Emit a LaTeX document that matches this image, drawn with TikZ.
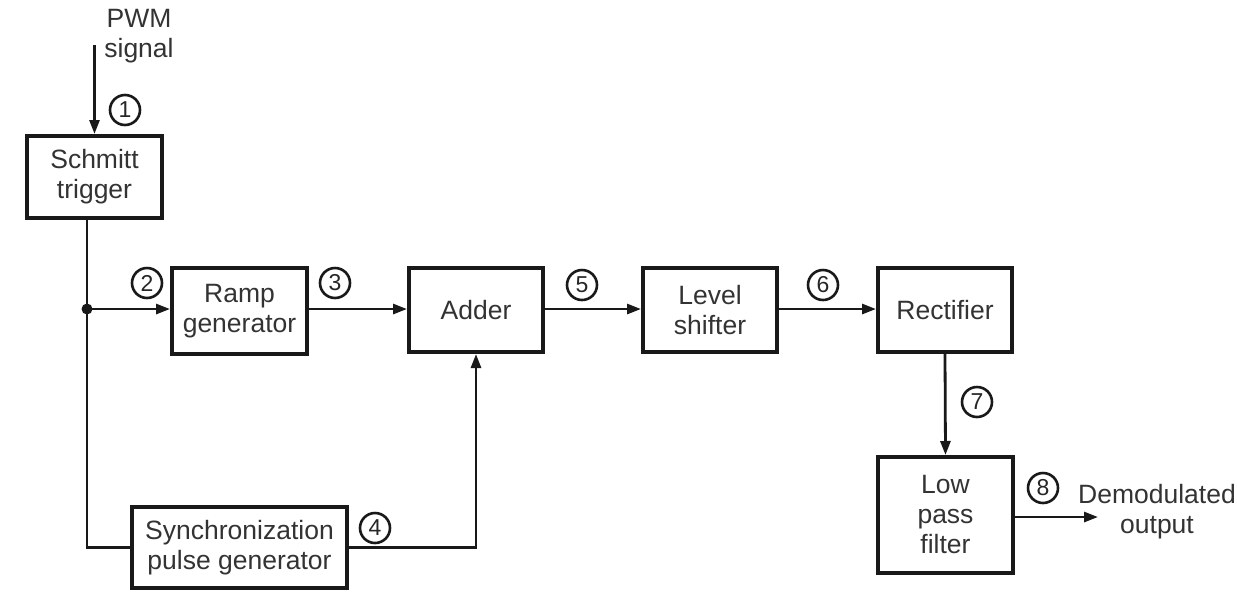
\documentclass[tikz,border=0pt]{standalone}
\usepackage{fontspec}
\setmainfont{Liberation Sans}
\usetikzlibrary{arrows.meta}
\begin{document}
\begin{tikzpicture}[x=1pt,y=-1pt,
  blk/.style={draw=black!90, line width=4pt, fill=white, align=center, inner sep=0pt,
    font=\fontsize{26.5}{30}\selectfont, text=black!80},
  wire/.style={draw=black!90, line width=2.8pt},
  arr/.style={wire, -{Triangle[length=14pt,width=10pt]}},
  num/.style={draw=black!90, circle, line width=2.6pt, minimum size=30pt, inner sep=0pt,
    font=\fontsize{23}{23}\selectfont, text=black!85},
  lbl/.style={align=center, font=\fontsize{26.5}{30}\selectfont, text=black!80}]
\useasboundingbox[fill=white] (0,0) rectangle (1237,598);
% blocks
\node[blk, minimum width=135pt, minimum height=82pt] (schmitt) at (94.5,177) {Schmitt\\trigger};
\node[blk, minimum width=135pt, minimum height=86pt] (ramp) at (239.5,311) {Ramp\\generator};
\node[blk, minimum width=134pt, minimum height=84pt] (adder) at (476,310) {Adder};
\node[blk, minimum width=134pt, minimum height=84pt] (level) at (710,310) {Level\\shifter};
\node[blk, minimum width=134pt, minimum height=84pt] (rect) at (945,310) {Rectifier};
\node[blk, minimum width=135pt, minimum height=116pt] (lpf) at (945.5,515) {Low\\pass\\filter};
\node[blk, minimum width=215pt, minimum height=81pt] (sync) at (239.5,547.5) {Synchronization\\pulse generator};
% labels
\node[lbl] (pwm) at (139,36) {PWM\\signal};
\node[lbl] (out) at (1157,512) {Demodulated\\output};
% coordinates
\coordinate (pin) at (94.5,45);
\coordinate (j) at (87,309);
\coordinate (c1) at (87,547.5);
\coordinate (lpfout) at (1098,517);
% connectors
\draw[arr] (pin) -- (schmitt.north);
\draw[wire] (schmitt.south -| j) -- (c1) -- (sync.west);
\fill[black!90] (j) circle (5.5pt);
\draw[arr] (j) -- (ramp.west |- j);
\draw[arr] (ramp.east |- j) -- (adder.west |- j);
\draw[arr] (adder.east |- j) -- (level.west |- j);
\draw[arr] (level.east |- j) -- (rect.west |- j);
\draw[arr] (rect.south) -- (lpf.north);
\draw[arr] (lpf.east |- lpfout) -- (lpfout);
\draw[arr] (sync.east) -- (adder.south |- sync.east) -- (adder.south);
% numbered markers
\node[num] (n1) at (125,110) {1};
\node[num] (n2) at (147,283) {2};
\node[num] (n3) at (335,283) {3};
\node[num] (n4) at (375,528) {4};
\node[num] (n5) at (582,285) {5};
\node[num] (n6) at (823,285) {6};
\node[num] (n7) at (977,402) {7};
\node[num] (n8) at (1043,488) {8};
\end{tikzpicture}
\end{document}
